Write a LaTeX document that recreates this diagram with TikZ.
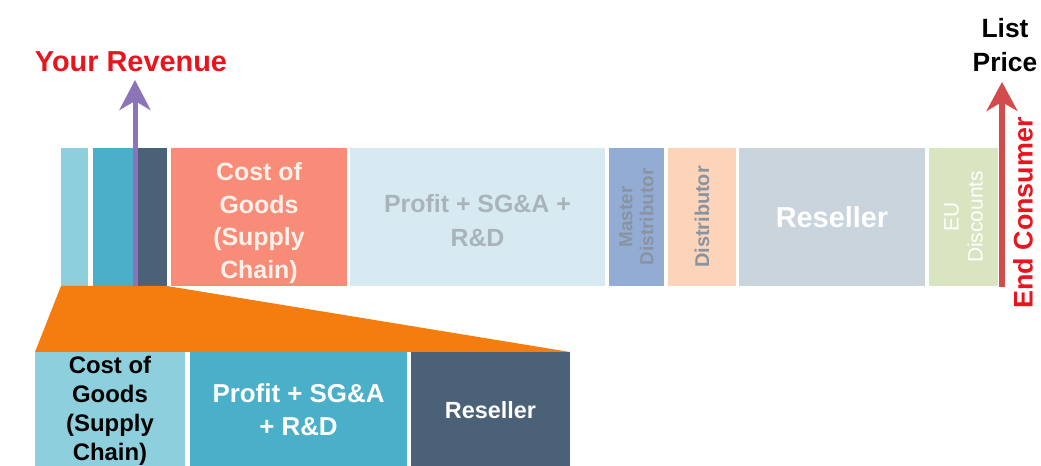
\documentclass[tikz,border=0pt]{standalone}
\usepackage{fontspec}
\setmainfont{Liberation Sans}
\usetikzlibrary{arrows.meta}
\definecolor{cLtTeal}{HTML}{8ECFDD}
\definecolor{cTeal}{HTML}{4AAFC8}
\definecolor{cSlate}{HTML}{4A6178}
\definecolor{cSalmon}{HTML}{F98C78}
\definecolor{cPale}{HTML}{D8EAF1}
\definecolor{cMaster}{HTML}{93ACD3}
\definecolor{cPeach}{HTML}{FBD4BA}
\definecolor{cGrayBlue}{HTML}{CAD4DD}
\definecolor{cGreen}{HTML}{D9E5C0}
\definecolor{cOrange}{HTML}{F57D0F}
\definecolor{cPurple}{HTML}{8C74B8}
\definecolor{cRedArrow}{HTML}{D44B4B}
\definecolor{cRedText}{HTML}{E8141E}
\definecolor{cGrayText}{HTML}{A9B3BA}
\definecolor{cDarkGrayText}{HTML}{8A93A2}
\definecolor{cCostText}{HTML}{FFF1EA}
\tikzset{
  seg/.style={anchor=north west, inner sep=0pt, outer sep=0pt, align=center, font=\bfseries},
  lbl/.style={inner sep=0pt, font=\bfseries, align=center},
}
\begin{document}
\begin{tikzpicture}[x=1bp,y=-1bp]
\useasboundingbox (0,0) rectangle (1041,466);
% top bar
\node[seg, fill=cLtTeal, minimum width=27bp, minimum height=138bp] (s1) at (61,148) {};
\node[seg, fill=cTeal, minimum width=42bp, minimum height=138bp] (s2) at (93,148) {};
\node[seg, fill=cSlate, minimum width=32bp, minimum height=138bp] (s3) at (135,148) {};
\node[seg, fill=cSalmon, minimum width=176bp, minimum height=138bp] (cost) at (171,148) {};
\node[lbl, text=cCostText, font=\bfseries\fontsize{25}{32.5}\selectfont] at ([yshift=-6bp]cost.center) {Cost of\\Goods\\(Supply\\Chain)};
\node[seg, fill=cPale, minimum width=255bp, minimum height=138bp] (profit) at (350,148) {};
\node[lbl, text=cGrayText, font=\bfseries\fontsize{25}{34}\selectfont] at ([yshift=-4bp]profit.center) {Profit + SG\&A +\\R\&D};
\node[seg, fill=cMaster, minimum width=55bp, minimum height=138bp] (master) at (609,148) {};
\node[lbl, rotate=90, text=cDarkGrayText, font=\bfseries\fontsize{19}{21}\selectfont] at (master.center) {Master\\Distributor};
\node[seg, fill=cPeach, minimum width=68bp, minimum height=138bp] (dist) at (668,148) {};
\node[lbl, rotate=90, text=cDarkGrayText, font=\bfseries\fontsize{20}{22}\selectfont] at (dist.center) {Distributor};
\node[seg, fill=cGrayBlue, minimum width=186bp, minimum height=138bp, text=white, font=\bfseries\fontsize{29}{32}\selectfont] (resel) at (739,148) {Reseller};
\node[seg, fill=cGreen, minimum width=69bp, minimum height=138bp] (eu) at (929,148) {};
\node[lbl, rotate=90, text=white, font=\fontsize{21}{24}\selectfont] at (eu.center) {EU\\Discounts};
% bottom bar
\node[seg, fill=cLtTeal, minimum width=150bp, minimum height=116bp] (bcost) at (35,352) {};
\node[lbl, text=black, font=\bfseries\fontsize{24}{29}\selectfont] at ([yshift=-0.5bp]bcost.center) {Cost of\\Goods\\(Supply\\Chain)};
\node[seg, fill=cTeal, minimum width=217bp, minimum height=116bp, text=white, font=\bfseries\fontsize{26}{33}\selectfont] (bprofit) at (190,352) {Profit + SG\&A\\+ R\&D};
\node[seg, fill=cSlate, minimum width=159bp, minimum height=116bp, text=white, font=\bfseries\fontsize{23.5}{26}\selectfont] (bresel) at (411,352) {Reseller};
% orange wedge
\fill[cOrange] (s1.south west) -- (s3.south east) -- (bresel.north east) -- (bcost.north west) -- cycle;
% labels
\node[lbl, text=cRedText, font=\bfseries\fontsize{29}{32}\selectfont] (rev) at (131,62) {Your Revenue};
\node[lbl, text=black, font=\bfseries\fontsize{26.5}{34}\selectfont] (list) at (1005,45) {List\\Price};
\node[lbl, rotate=90, text=cRedText, font=\bfseries\fontsize{27}{30}\selectfont] (endc) at (1023,213) {End Consumer};
% arrows
\coordinate (revbase) at (135,286);
\coordinate (revtip) at (135,80);
\draw[cPurple, line width=5bp, -{Stealth[width=31bp,length=30bp,inset=9bp]}] (revbase) -- (revtip);
\coordinate (lpbase) at (1002,287);
\coordinate (lptip) at (1002,82);
\draw[cRedArrow, line width=6bp, -{Stealth[width=31bp,length=29bp,inset=9bp]}] (lpbase) -- (lptip);
\end{tikzpicture}
\end{document}
